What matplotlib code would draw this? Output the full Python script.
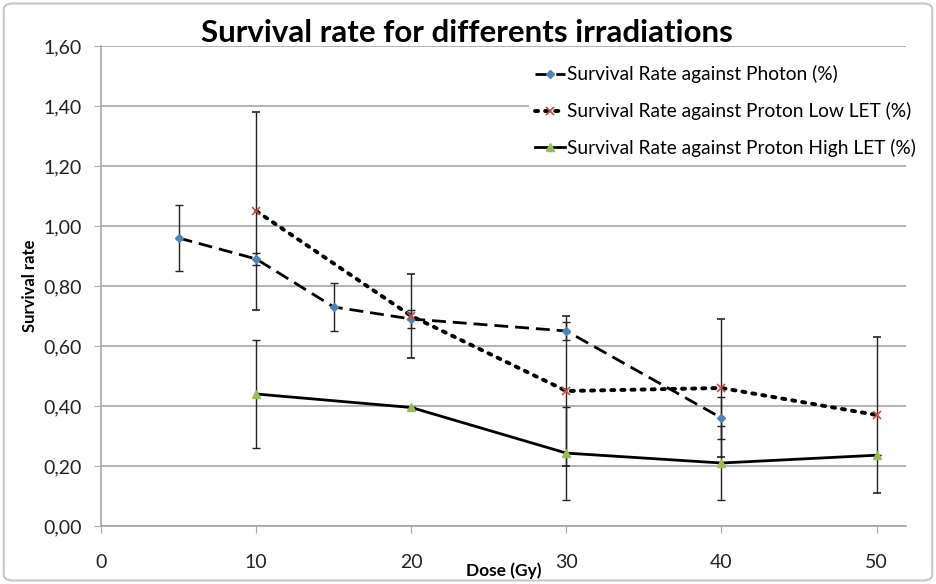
import matplotlib.pyplot as plt
from matplotlib.patches import FancyBboxPatch
from matplotlib.ticker import FuncFormatter

plt.rcParams['font.family'] = ['Lato', 'DejaVu Sans']

# data
photon_dose = [5, 10, 15, 20, 30, 40]
photon_rate = [0.96, 0.89, 0.73, 0.69, 0.65, 0.36]
photon_err = [0.11, 0.02, 0.08, 0.03, 0.03, 0.07]

low_dose = [10, 20, 30, 40, 50]
low_rate = [1.05, 0.70, 0.45, 0.46, 0.37]
low_err = [0.33, 0.14, 0.25, 0.23, 0.26]

high_dose = [10, 20, 30, 40, 50]
high_rate = [0.44, 0.395, 0.243, 0.21, 0.236]
high_err = [0.18, 0.0, 0.155, 0.123, 0.0]

labels = ['Survival Rate against Photon (%)',
          'Survival Rate against Proton Low LET (%)',
          'Survival Rate against Proton High LET (%)']

fig = plt.figure(figsize=(9.36, 5.84), dpi=100)
ax = fig.add_axes([0.108, 0.0993, 0.860, 0.822])

# outer frame like the excel chart area
fig.patches.append(FancyBboxPatch((0.004, 0.006), 0.992, 0.988, boxstyle='round,pad=0,rounding_size=0.01',
                                  transform=fig.transFigure, fill=False, edgecolor='#c8c8c8', lw=1.5))

c1 = ax.errorbar(photon_dose, photon_rate, yerr=photon_err, color='black', ls=(0, (5, 2.5)), lw=2,
                 marker='D', ms=4.5, mfc='#4f81bd', mec='#4f81bd', ecolor='#222222', elinewidth=1,
                 capsize=3, capthick=1, label=labels[0], zorder=3)
c2 = ax.errorbar(low_dose, low_rate, yerr=low_err, color='black', ls=(0, (0.8, 1.8)), lw=2.8,
                 dash_capstyle='round', marker='x', ms=6, mew=1.2, mec='#c0504d', ecolor='#222222',
                 elinewidth=1, capsize=3, capthick=1, label=labels[1], zorder=3)
c3 = ax.errorbar(high_dose, high_rate, yerr=high_err, color='black', ls='-', lw=2,
                 marker='^', ms=6, mfc='#9bbb59', mec='#9bbb59', ecolor='#222222', elinewidth=1,
                 capsize=3, capthick=1, label=labels[2], zorder=3)

ax.set_xlim(0, 51.9)
ax.set_ylim(0, 1.6)
ax.set_xticks([0, 10, 20, 30, 40, 50])
ax.set_yticks([0, 0.2, 0.4, 0.6, 0.8, 1.0, 1.2, 1.4, 1.6])
ax.yaxis.set_major_formatter(FuncFormatter(lambda v, p: f'{v:.2f}'.replace('.', ',')))
ax.grid(axis='y', color='#a6a6a6', lw=1.2)
ax.set_axisbelow(True)
for s in ['top', 'right']:
    ax.spines[s].set_visible(False)
for s in ['left', 'bottom']:
    ax.spines[s].set_color('#a6a6a6')
    ax.spines[s].set_linewidth(1.2)
ax.tick_params(axis='both', colors='#a6a6a6', labelcolor='#222222', labelsize=14, length=5)
ax.tick_params(axis='x', pad=15)
ax.tick_params(axis='y', pad=9)

ax.set_ylabel('Survival rate', fontsize=12, fontweight='bold', labelpad=4)
fig.text(0.538, 0.022, 'Dose (Gy)', fontsize=12.5, fontweight='bold', ha='center', va='center')
fig.text(0.499, 0.943, 'Survival rate for differents irradiations', fontsize=22.5,
         fontweight='bold', ha='center', va='center')

leg = ax.legend(handles=[c1[0], c2[0], c3[0]], labels=labels, loc='upper right',
                bbox_to_anchor=(0.985, 0.898), bbox_transform=fig.transFigure,
                frameon=True, fontsize=13.8, handlelength=1.6, handletextpad=0.1,
                labelspacing=0.98, borderpad=0.3, borderaxespad=0)
leg.get_frame().set_facecolor('white')
leg.get_frame().set_edgecolor('none')
leg.get_frame().set_alpha(1)

fig.savefig('out.png', dpi=100)
